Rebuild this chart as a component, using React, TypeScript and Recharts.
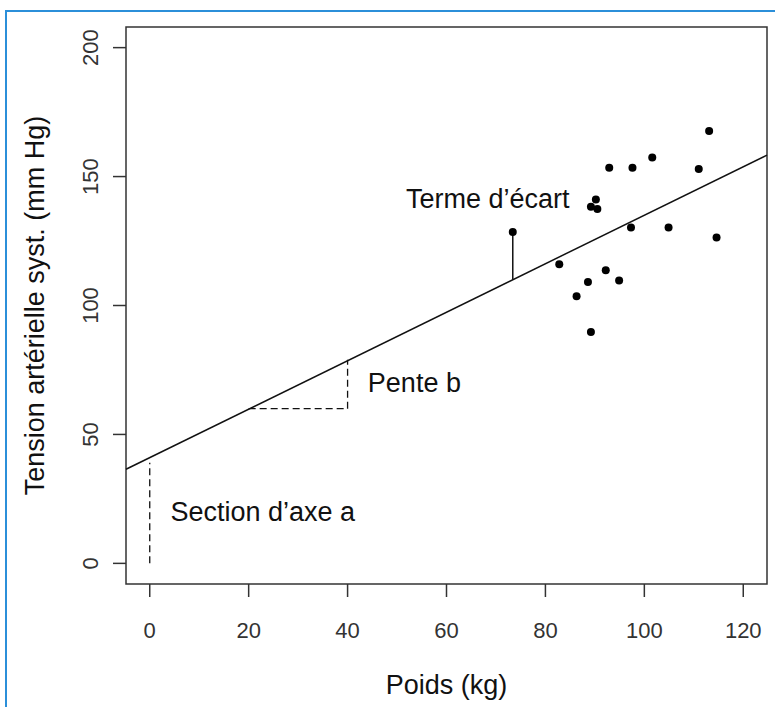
import React from "react";
import {
  ScatterChart,
  Scatter,
  XAxis,
  YAxis,
  ReferenceLine,
  ReferenceArea,
  ReferenceDot,
} from "recharts";

// ---- Data ----
const weights = [113.1, 101.6, 92.9, 97.6, 111.0, 90.2, 89.2, 90.5, 73.4, 97.3, 104.9, 114.6, 82.8, 92.2, 88.6, 94.9, 86.3, 89.2];
const pressures = [167.7, 157.4, 153.4, 153.4, 152.9, 141.1, 138.3, 137.4, 128.5, 130.2, 130.2, 126.4, 116.0, 113.7, 109.1, 109.7, 103.6, 89.7];
const residualIndex = 8;

const intercept = 41;
const slope = 0.94;

const xTicks = [0, 20, 40, 60, 80, 100, 120];
const yTicks = [0, 50, 100, 150, 200];
const xDomain = [-4.8, 124.8];
const yDomain = [-8, 208];

const interceptTop = 39;
const slopeRun = [20, 40];
const slopeBase = 60;
const slopeRise = 79;

const annotations = [
  { x: 51.8, y: 137.7, text: "Terme d\u2019\u00e9cart" },
  { x: 44.1, y: 66.4, text: "Pente b" },
  { x: 4.2, y: 16.3, text: "Section d\u2019axe a" },
];

const xLabel = "Poids (kg)";
const yLabel = "Tension art\u00e9rielle syst. (mm Hg)";

const points = weights.map((w, i) => ({ x: w, y: pressures[i] }));
const lineY = (x: number) => intercept + slope * x;

const FONT = "'Liberation Sans', Arial, Helvetica, sans-serif";

const YTick = (props: any) => {
  const { x, y, payload } = props;
  return (
    <text
      x={x}
      y={y}
      transform={`rotate(-90, ${x}, ${y})`}
      textAnchor="middle"
      fontSize={22}
      fontFamily={FONT}
      fill="#333"
    >
      {payload.value}
    </text>
  );
};

const XTick = (props: any) => {
  const { x, y, payload } = props;
  return (
    <text x={x} y={y} textAnchor="middle" fontSize={22} fontFamily={FONT} fill="#333">
      {payload.value}
    </text>
  );
};

const AnnotationShape = (text: string) => (props: any) => (
  <text x={props.cx} y={props.cy} fontSize={27} fontFamily={FONT} fill="#111">
    {text}
  </text>
);

const Dot = (props: any) => <circle cx={props.cx} cy={props.cy} r={4} fill="#000" />;

export default function App() {
  return (
    <div style={{ position: "absolute", left: 0, top: 0, width: 775, height: 707, background: "#fff" }}>
      <div
        style={{
          position: "absolute",
          left: 5,
          top: 10,
          width: 800,
          height: 720,
          borderLeft: "2px solid #2b8fd9",
          borderTop: "2px solid #2b8fd9",
        }}
      />
      <div style={{ position: "absolute", left: 0, top: 0 }}>
        <ScatterChart width={775} height={707} margin={{ top: 27, right: 8, left: 0, bottom: 0 }}>
          <XAxis
            type="number"
            dataKey="x"
            domain={xDomain}
            ticks={xTicks}
            allowDataOverflow
            axisLine={false}
            tickLine={{ stroke: "#333", strokeWidth: 1.5 }}
            tickSize={13}
            tickMargin={41}
            height={123}
            tick={<XTick />}
            label={(p: any) => {
              const vb = p.viewBox;
              return (
                <text
                  x={vb.x + vb.width / 2}
                  y={vb.y + 110}
                  textAnchor="middle"
                  fontSize={27}
                  fontFamily={FONT}
                  fill="#111"
                >
                  {xLabel}
                </text>
              );
            }}
          />
          <YAxis
            type="number"
            dataKey="y"
            domain={yDomain}
            ticks={yTicks}
            allowDataOverflow
            axisLine={false}
            tickLine={{ stroke: "#333", strokeWidth: 1.5 }}
            tickSize={13}
            tickMargin={15}
            width={126}
            tick={<YTick />}
            label={(p: any) => {
              const vb = p.viewBox;
              const cy = vb.y + vb.height / 2;
              const cx = 44;
              return (
                <text
                  x={cx}
                  y={cy}
                  transform={`rotate(-90, ${cx}, ${cy})`}
                  textAnchor="middle"
                  fontSize={27}
                  fontFamily={FONT}
                  fill="#111"
                >
                  {yLabel}
                </text>
              );
            }}
          />
          <ReferenceArea
            x1={xDomain[0]}
            x2={xDomain[1]}
            y1={yDomain[0]}
            y2={yDomain[1]}
            fill="none"
            fillOpacity={0}
            stroke="#333"
            strokeWidth={1.5}
            ifOverflow="visible"
          />
          <ReferenceLine
            segment={[
              { x: xDomain[0], y: lineY(xDomain[0]) },
              { x: xDomain[1], y: lineY(xDomain[1]) },
            ]}
            stroke="#111"
            strokeWidth={1.5}
            ifOverflow="visible"
          />
          <ReferenceLine
            segment={[
              { x: weights[residualIndex], y: pressures[residualIndex] },
              { x: weights[residualIndex], y: lineY(weights[residualIndex]) },
            ]}
            stroke="#111"
            strokeWidth={1.5}
            ifOverflow="visible"
          />
          <ReferenceLine
            segment={[
              { x: 0, y: 0 },
              { x: 0, y: interceptTop },
            ]}
            stroke="#111"
            strokeWidth={1.3}
            strokeDasharray="7 4"
            ifOverflow="visible"
          />
          <ReferenceLine
            segment={[
              { x: slopeRun[0], y: slopeBase },
              { x: slopeRun[1], y: slopeBase },
            ]}
            stroke="#111"
            strokeWidth={1.3}
            strokeDasharray="7 4"
            ifOverflow="visible"
          />
          <ReferenceLine
            segment={[
              { x: slopeRun[1], y: slopeBase },
              { x: slopeRun[1], y: slopeRise },
            ]}
            stroke="#111"
            strokeWidth={1.3}
            strokeDasharray="7 4"
            ifOverflow="visible"
          />
          {annotations.map((a) => (
            <ReferenceDot key={a.text} x={a.x} y={a.y} r={0} shape={AnnotationShape(a.text)} ifOverflow="visible" />
          ))}
          <Scatter data={points} shape={<Dot />} isAnimationActive={false} />
        </ScatterChart>
      </div>
    </div>
  );
}
